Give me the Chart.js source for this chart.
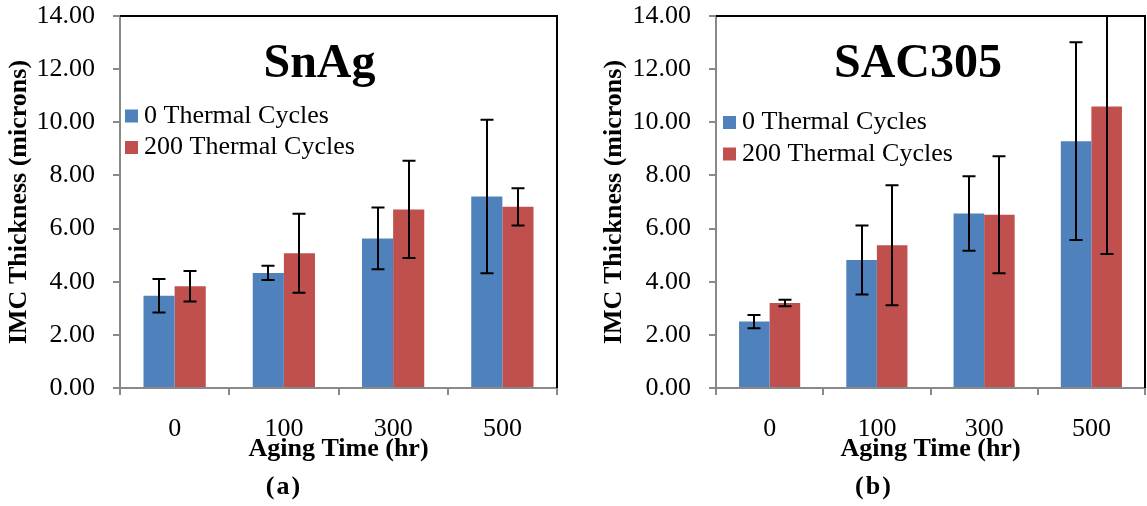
<!DOCTYPE html>
<html>
<head>
<meta charset="utf-8">
<script src="https://cdn.jsdelivr.net/npm/chart.js@4.4.1/dist/chart.umd.min.js"></script>
<style>
  html, body { margin: 0; padding: 0; background: #fff; }
  #wrap { position: relative; width: 1147px; height: 506px; overflow: hidden; }
  #wrap canvas { position: absolute; top: 0; }
  .cap {
    position: absolute;
    font: bold 26px 'Liberation Serif', 'Times New Roman', serif;
    line-height: 26px;
    letter-spacing: 2px;
    color: #000;
    transform: translateX(-50%);
    white-space: nowrap;
  }
</style>
</head>
<body>
<div id="wrap">
  <canvas id="snag" width="573" height="506" style="left:0"></canvas>
  <canvas id="sac" width="574" height="506" style="left:573px"></canvas>
  <div class="cap" style="left:284px; top:473px">(a)</div>
  <div class="cap" style="left:874px; top:473px">(b)</div>
</div>
<script>
// Aging time categories and y-axis ticks
const agingTimes = ['0', '100', '300', '500'];
const seriesNames = ['0 Thermal Cycles', '200 Thermal Cycles'];
const yTicks = [0, 2, 4, 6, 8, 10, 12, 14];

// SnAg IMC thickness (microns) and standard deviations
const snagZeroCycles = [3.47, 4.33, 5.63, 7.21];
const snagZeroCyclesErr = [0.63, 0.27, 1.16, 2.89];
const snag200Cycles = [3.83, 5.07, 6.72, 6.82];
const snag200CyclesErr = [0.57, 1.49, 1.83, 0.70];

// SAC305 IMC thickness (microns) and standard deviations
const sacZeroCycles = [2.50, 4.82, 6.57, 9.29];
const sacZeroCyclesErr = [0.25, 1.30, 1.40, 3.72];
const sac200Cycles = [3.20, 5.37, 6.52, 10.59];
const sac200CyclesErr = [0.12, 2.26, 2.20, 5.55];

const seriesColors = ['#4F81BD', '#C0504D'];
const axisGray = '#898989';
const serif = "'Liberation Serif', 'Times New Roman', serif";

Chart.defaults.font.family = serif;
Chart.defaults.font.size = 26;
Chart.defaults.color = '#000';

// Symmetric error bars, clipped to the plot area
const errorBars = {
  id: 'errorBars',
  afterDatasetsDraw(chart) {
    const { ctx, chartArea } = chart;
    const y = chart.scales.y;
    ctx.save();
    ctx.beginPath();
    ctx.rect(chartArea.left, chartArea.top, chartArea.width, chartArea.height);
    ctx.clip();
    ctx.strokeStyle = '#000';
    ctx.lineWidth = 2;
    chart.data.datasets.forEach((ds, i) => {
      chart.getDatasetMeta(i).data.forEach((bar, j) => {
        const v = ds.data[j], e = ds.errors[j];
        const x = Math.round(bar.x);
        const yt = y.getPixelForValue(v + e);
        const yb = y.getPixelForValue(v - e);
        const half = 6.5;
        ctx.beginPath();
        ctx.moveTo(x, yt); ctx.lineTo(x, yb);
        ctx.moveTo(x - half, yt); ctx.lineTo(x + half, yt);
        ctx.moveTo(x - half, yb); ctx.lineTo(x + half, yb);
        ctx.stroke();
      });
    });
    ctx.restore();
  }
};

// Black top and right edges of the plot frame
const plotFrame = {
  id: 'plotFrame',
  afterDraw(chart) {
    const { ctx, chartArea: a } = chart;
    ctx.save();
    ctx.strokeStyle = '#000';
    ctx.lineWidth = 2;
    ctx.beginPath();
    ctx.moveTo(a.left, a.top);
    ctx.lineTo(a.right, a.top);
    ctx.lineTo(a.right, a.bottom);
    ctx.stroke();
    ctx.restore();
  }
};

// Alloy name inside the plot
const panelTitle = {
  id: 'panelTitle',
  afterDraw(chart, args, opts) {
    const { ctx, chartArea: a } = chart;
    ctx.save();
    ctx.font = 'bold 48px ' + serif;
    ctx.fillStyle = '#000';
    ctx.textAlign = 'center';
    ctx.textBaseline = 'alphabetic';
    ctx.fillText(opts.text, a.left + opts.cx, a.top + opts.baseline);
    ctx.restore();
  }
};

// Legend drawn inside the plot, built from the datasets
const insetLegend = {
  id: 'insetLegend',
  afterDraw(chart, args, opts) {
    const { ctx, chartArea: a } = chart;
    ctx.save();
    ctx.font = '26px ' + serif;
    ctx.textAlign = 'left';
    ctx.textBaseline = 'middle';
    chart.data.datasets.forEach((ds, i) => {
      const cy = a.top + opts.y + i * opts.rowGap;
      const x = a.left + opts.x;
      ctx.fillStyle = ds.backgroundColor;
      ctx.fillRect(x, cy - opts.box / 2, opts.box, opts.box);
      ctx.fillStyle = '#000';
      ctx.fillText(ds.label, x + opts.box + opts.textGap, cy);
    });
    ctx.restore();
  }
};

function makeChart(id, title, zero, zeroErr, two, twoErr, geom) {
  return new Chart(document.getElementById(id), {
    type: 'bar',
    data: {
      labels: agingTimes,
      datasets: [
        { label: seriesNames[0], data: zero, errors: zeroErr, backgroundColor: seriesColors[0] },
        { label: seriesNames[1], data: two, errors: twoErr, backgroundColor: seriesColors[1] }
      ]
    },
    plugins: [errorBars, plotFrame, panelTitle, insetLegend],
    options: {
      responsive: false,
      animation: false,
      events: [],
      categoryPercentage: 0.57,
      barPercentage: 1.0,
      layout: { padding: { left: geom.padLeft, top: 0, right: geom.padRight, bottom: 0 } },
      plugins: {
        legend: { display: false },
        tooltip: { enabled: false },
        title: { display: false },
        panelTitle: { text: title, cx: geom.titleX, baseline: 61 },
        insetLegend: { x: geom.legendX, y: geom.legendY, rowGap: 31.5, box: 13, textGap: 6 }
      },
      scales: {
        x: {
          z: 1,
          grid: { offset: true, drawOnChartArea: false, drawTicks: true, tickLength: 7, color: axisGray, lineWidth: 2 },
          border: { display: true, color: axisGray, width: 2 },
          ticks: { padding: 19, font: { size: 26 }, maxRotation: 0 },
          title: {
            display: true,
            text: 'Aging Time (hr)',
            font: { size: 26, weight: 'bold' },
            padding: { top: 0, bottom: 41 }
          },
          afterFit(s) { s.height = 118; }
        },
        y: {
          min: 0,
          max: 14,
          grid: { drawOnChartArea: false, drawTicks: true, tickLength: 7, color: axisGray, lineWidth: 2 },
          border: { display: true, color: axisGray, width: 2 },
          ticks: {
            padding: 18,
            font: { size: 26 },
            callback: v => Number(v).toFixed(2)
          },
          afterBuildTicks(s) { s.ticks = yTicks.map(v => ({ value: v })); },
          title: {
            display: true,
            text: 'IMC Thickness (microns)',
            font: { size: 26, weight: 'bold' },
            padding: { top: 4, bottom: 0 }
          },
          afterFit(s) {
            s.width = geom.axisWidth;
            s.paddingTop = 16;
          }
        }
      }
    }
  });
}

makeChart('snag', 'SnAg',
  snagZeroCycles, snagZeroCyclesErr, snag200Cycles, snag200CyclesErr,
  { padLeft: 0, padRight: 16, axisWidth: 120, titleX: 199.5, legendX: 5, legendY: 100 });

makeChart('sac', 'SAC305',
  sacZeroCycles, sacZeroCyclesErr, sac200Cycles, sac200CyclesErr,
  { padLeft: 22, padRight: 2, axisWidth: 121, titleX: 202, legendX: 7, legendY: 106.5 });
</script>
</body>
</html>
